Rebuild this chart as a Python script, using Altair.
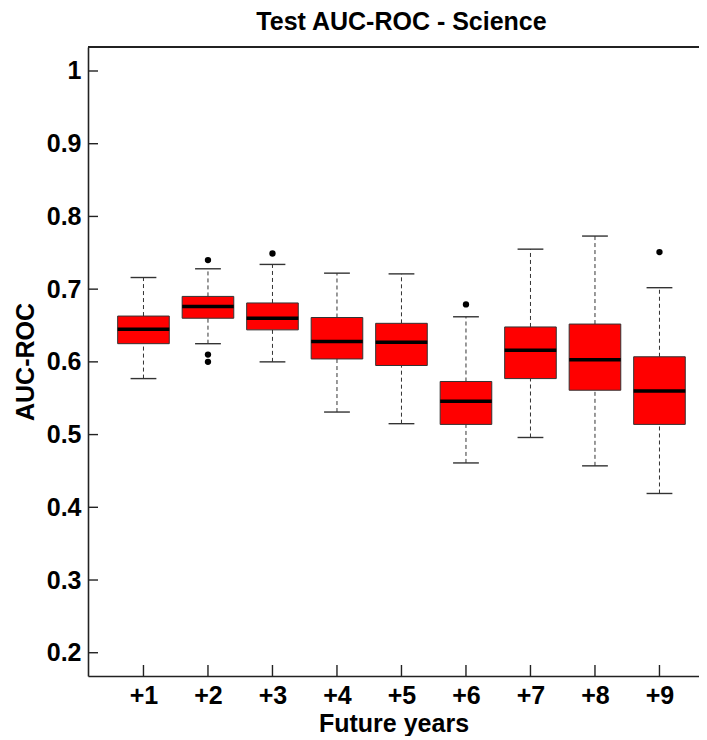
import altair as alt
import pandas as pd

groups = ["+1", "+2", "+3", "+4", "+5", "+6", "+7", "+8", "+9"]
positions = [1, 2, 3, 4, 5, 6, 7, 8, 9]
whisker_low = [0.577, 0.625, 0.600, 0.531, 0.515, 0.461, 0.496, 0.457, 0.419]
q1 = [0.625, 0.660, 0.644, 0.604, 0.595, 0.514, 0.577, 0.561, 0.514]
median = [0.645, 0.676, 0.660, 0.628, 0.627, 0.546, 0.616, 0.603, 0.560]
q3 = [0.663, 0.690, 0.681, 0.661, 0.653, 0.573, 0.648, 0.652, 0.607]
whisker_high = [0.716, 0.728, 0.734, 0.722, 0.721, 0.662, 0.755, 0.773, 0.702]

outlier_pos = [2, 2, 2, 3, 6, 9]
outlier_value = [0.740, 0.610, 0.600, 0.749, 0.679, 0.751]

y_ticks = [0.2, 0.3, 0.4, 0.5, 0.6, 0.7, 0.8, 0.9, 1.0]

W = 611
H = 629
FONT = "Liberation Sans"
FS = 25

box_df = pd.DataFrame({
    "group": groups, "pos": positions, "wlo": whisker_low, "q1": q1,
    "median": median, "q3": q3, "whi": whisker_high,
})
out_df = pd.DataFrame({"pos": outlier_pos, "value": outlier_value})
ytick_df = pd.DataFrame({"v": y_ticks})
xtick_df = pd.DataFrame({"pos": positions})

xscale = alt.Scale(domain=[0.14, 0.14 + W / 64.5], nice=False, zero=False)
yscale = alt.Scale(domain=[0.168, 1.033], nice=False, zero=False)

x_axis = alt.Axis(
    values=positions, labelExpr="'+' + datum.value", ticks=False, grid=False,
    domain=True, domainColor="#222", domainWidth=1.6, labelFont=FONT,
    labelFontSize=FS, labelFontWeight="bold", labelColor="#000", labelPadding=7,
    title="Future years", titleFont=FONT, titleFontSize=FS, titleFontWeight="bold",
    titleColor="#000", titlePadding=3,
)
y_axis = alt.Axis(
    values=y_ticks, labelExpr="datum.value == 1 ? '1' : format(datum.value, '.1f')",
    ticks=False, grid=False, domain=True, domainColor="#222", domainWidth=1.6,
    labelFont=FONT, labelFontSize=FS, labelFontWeight="bold", labelColor="#000",
    labelPadding=7, title="AUC-ROC", titleFont=FONT, titleFontSize=FS,
    titleFontWeight="bold", titleColor="#000", titlePadding=8,
)

base = alt.Chart(box_df).transform_calculate(
    lo="datum.pos - 0.4", hi="datum.pos + 0.4",
    slo="datum.pos - 0.2", shi="datum.pos + 0.2",
)

whisker_up = base.mark_rule(color="#333", strokeWidth=1, strokeDash=[4, 3]).encode(
    x=alt.X("pos:Q", scale=xscale, axis=x_axis),
    y=alt.Y("q3:Q", scale=yscale, axis=y_axis),
    y2="whi:Q",
)
whisker_down = base.mark_rule(color="#333", strokeWidth=1, strokeDash=[4, 3]).encode(
    x="pos:Q", y="wlo:Q", y2="q1:Q",
)
staple_up = base.mark_rule(color="#333", strokeWidth=1.4).encode(
    x="slo:Q", x2="shi:Q", y="whi:Q",
)
staple_down = base.mark_rule(color="#333", strokeWidth=1.4).encode(
    x="slo:Q", x2="shi:Q", y="wlo:Q",
)
boxes = base.mark_rect(fill="#FF0000", stroke="#333", strokeWidth=1).encode(
    x="lo:Q", x2="hi:Q", y="q1:Q", y2="q3:Q",
)
medians = base.mark_rule(color="#000", strokeWidth=3.5).encode(
    x="lo:Q", x2="hi:Q", y="median:Q",
)
outliers = alt.Chart(out_df).mark_circle(color="#000", opacity=1, size=40).encode(
    x="pos:Q", y="value:Q",
)
yticks = alt.Chart(ytick_df).mark_rule(color="#222", strokeWidth=1.4).encode(
    y="v:Q", x=alt.value(0), x2=alt.value(10),
)
xticks = alt.Chart(xtick_df).mark_rule(color="#222", strokeWidth=1.4).encode(
    x="pos:Q", y=alt.value(H - 11), y2=alt.value(H),
)
top_border = alt.Chart(xtick_df).mark_rule(color="#222", strokeWidth=1.6).encode(
    x=alt.value(0), x2=alt.value(W), y=alt.value(0),
)

chart = alt.layer(
    whisker_up, whisker_down, staple_up, staple_down, boxes, medians,
    outliers, yticks, xticks, top_border,
).properties(
    width=W, height=H,
    title=alt.TitleParams(
        "Test AUC-ROC - Science", font=FONT, fontSize=FS, fontWeight="bold",
        color="#000", anchor="middle", dx=8, offset=11,
    ),
    autosize=alt.AutoSizeParams(type="none"),
    padding={"left": 80, "top": 39, "right": 0, "bottom": 60},
).configure_view(stroke=None)

chart.save("out.html", embed_options={"renderer": "svg", "actions": False})
